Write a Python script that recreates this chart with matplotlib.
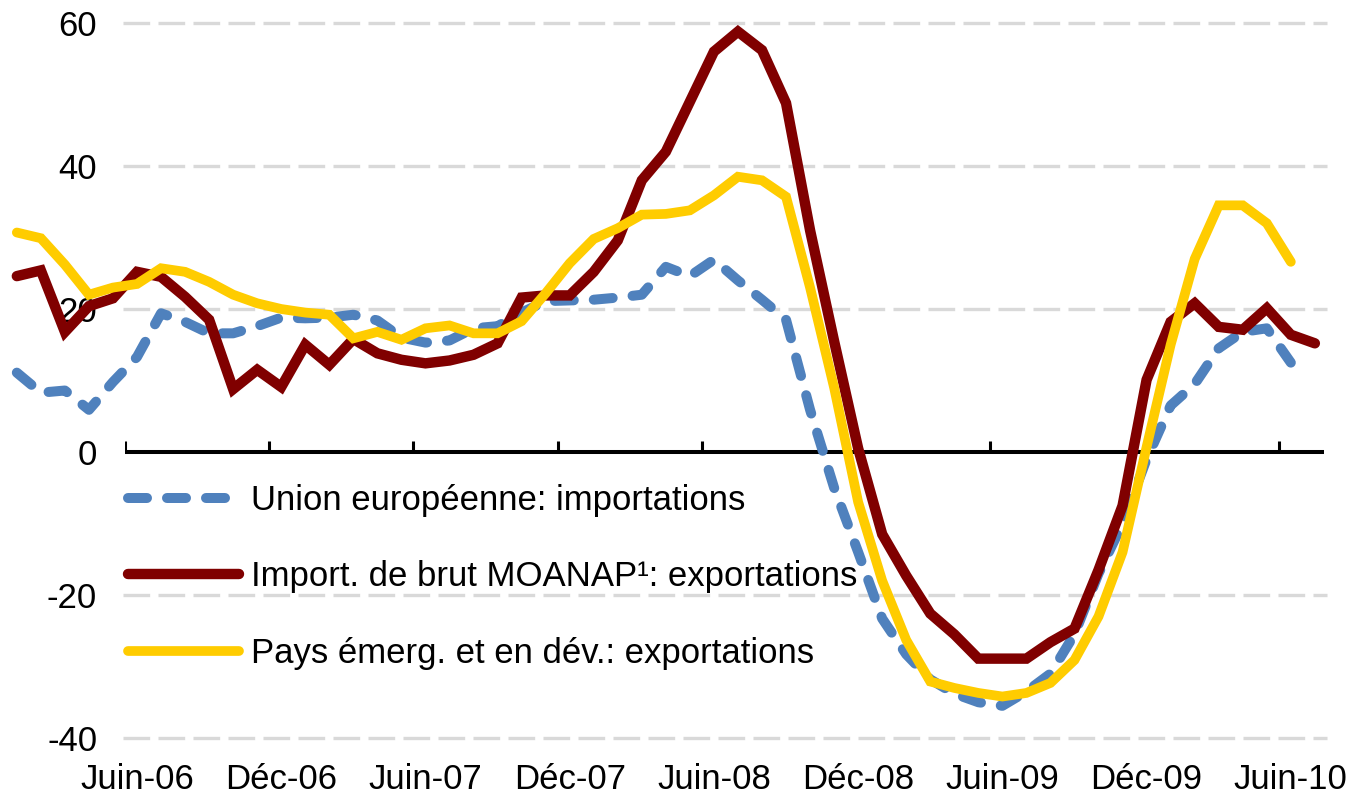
import numpy as np
import matplotlib
matplotlib.use('Agg')
import matplotlib.pyplot as plt

# monthly data, Jan-06 onwards
union_europe = [11.1, 8.3, 8.6, 5.9, 9.8, 13.3, 19.4, 18.2, 16.6, 16.6,
                17.6, 18.8, 18.7, 18.8, 19.2, 18.4, 16.0, 15.3, 15.6, 17.3,
                17.6, 19.5, 21.1, 21.2, 21.3, 21.6, 22.0, 25.9, 24.6, 26.9,
                24.0, 21.3, 18.5, 5.9, -5.0, -14.0, -23.3, -28.3, -31.8, -33.8,
                -35.0, -35.5, -33.5, -31.0, -25.5, -17.0, -10.0, -1.0, 6.5, 9.5,
                14.5, 16.8, 17.3, 12.5]
moanap = [24.6, 25.4, 16.8, 20.4, 21.5, 25.2, 24.5, 21.7, 18.5, 8.8,
          11.5, 9.1, 15.0, 12.2, 15.8, 13.8, 12.9, 12.4, 12.8, 13.6,
          15.2, 21.6, 21.9, 21.9, 25.2, 29.6, 38.0, 42.0, 49.0, 56.0,
          58.8, 56.2, 48.8, 31.0, 15.5, 0.5, -11.5, -17.3, -22.6, -25.5,
          -28.9, -28.9, -28.9, -26.6, -24.7, -16.5, -7.5, 10.1, 18.2, 20.8,
          17.5, 17.1, 20.1, 16.4, 15.2]
emergents = [30.7, 29.9, 26.2, 22.0, 23.0, 23.5, 25.7, 25.2, 23.8, 22.0,
             20.8, 20.0, 19.5, 19.2, 15.9, 16.8, 15.7, 17.3, 17.7, 16.6,
             16.6, 18.3, 22.2, 26.4, 29.8, 31.3, 33.2, 33.3, 33.8, 35.9,
             38.5, 38.0, 35.7, 23.0, 9.0, -7.0, -18.0, -26.3, -32.1, -33.0,
             -33.7, -34.2, -33.7, -32.3, -29.1, -23.0, -14.0, 0.7, 15.0, 27.0,
             34.5, 34.5, 32.0, 26.6]

labels = ['Union européenne: importations',
          'Import. de brut MOANAP¹: exportations',
          'Pays émerg. et en dév.: exportations']
xtick_labels = ['Juin-06', 'Déc-06', 'Juin-07', 'Déc-07', 'Juin-08',
                'Déc-08', 'Juin-09', 'Déc-09', 'Juin-10']
ytick_values = [60, 40, 20, 0, -20, -40]

plt.rcParams['font.family'] = ['Liberation Sans', 'DejaVu Sans']

W, H = 1349, 796
fig = plt.figure(figsize=(W / 100, H / 100), dpi=100)
ax = fig.add_axes([125 / W, (H - 745) / H, 1 - 125 / W, 745 / H])
ax.set_xlim(4.5, 55.42)
ax.set_ylim(-40.98, 63.22)
for s in ax.spines.values():
    s.set_visible(False)

# gridlines
for v in ytick_values:
    if v != 0:
        ax.plot([4.4, 54.5], [v, v], color='#d9d9d9', lw=2.4,
                dashes=(8, 2.5), zorder=1, clip_on=False)

# zero axis + tick marks
ax.plot([4.4, 54.4], [0, 0], color='black', lw=2.9, zorder=2,
        solid_capstyle='butt')
tick_pos = [4.5 + 6 * k for k in range(9)]
ax.vlines(tick_pos, 0, 1.5, color='black', lw=2.2, zorder=2)

blue = '#4f81bd'
red = '#800000'
yellow = '#ffcc00'

ax.plot(np.arange(len(union_europe)), union_europe, color=blue, lw=7.2,
        dashes=(1.9, 2.0), dash_capstyle='round', solid_joinstyle='round',
        clip_on=False, zorder=3, label=labels[0])
ax.plot(np.arange(len(moanap)), moanap, color=red, lw=7.5,
        solid_joinstyle='miter', solid_capstyle='round',
        clip_on=False, zorder=4, label=labels[1])
ax.plot(np.arange(len(emergents)), emergents, color=yellow, lw=7,
        solid_joinstyle='miter', solid_capstyle='round',
        clip_on=False, zorder=5, label=labels[2])

ax.set_yticks(ytick_values)
ax.set_yticklabels([str(v) for v in ytick_values])
ax.set_xticks([5 + 6 * k for k in range(9)])
ax.set_xticklabels(xtick_labels)
ax.tick_params(axis='y', length=0, pad=20, labelsize=25)
ax.tick_params(axis='x', length=0, pad=13, labelsize=25)

leg = ax.legend(loc='upper left', bbox_to_anchor=(128 / W, 1 - 484 / H),
                bbox_transform=fig.transFigure, frameon=False, fontsize=25,
                handlelength=3.2, handletextpad=0.35, labelspacing=1.25,
                borderpad=0, borderaxespad=0)

fig.savefig('out.png', dpi=100)
